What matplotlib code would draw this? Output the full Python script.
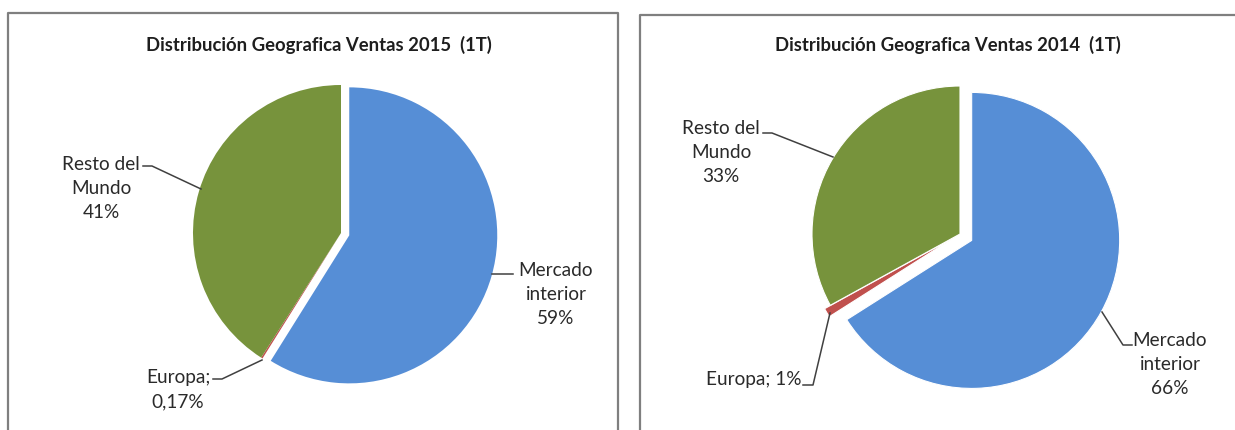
import matplotlib
matplotlib.use("Agg")
import matplotlib.pyplot as plt
from matplotlib.lines import Line2D

# ---------------- data ----------------
categories = ["Mercado interior", "Europa", "Resto del Mundo"]
values_2015 = [59, 0.17, 41]
values_2014 = [66, 1, 33]
pct_2015 = ["59%", "0,17%", "41%"]
pct_2014 = ["66%", "1%", "33%"]
title_2015 = "Distribución Geografica Ventas 2015  (1T)"
title_2014 = "Distribución Geografica Ventas 2014  (1T)"

colors = ["#568ED6", "#C0504D", "#77933C"]
TEXT = "#2A2A2A"
W, H = 1235, 430
plt.rcParams["font.family"] = ["Lato", "DejaVu Sans"]

fig = plt.figure(figsize=(W / 100, H / 100), dpi=100)
fig.patch.set_facecolor("white")


def fline(pts, **kw):
    xs = [p[0] / W for p in pts]
    ys = [1 - p[1] / H for p in pts]
    fig.add_artist(Line2D(xs, ys, transform=fig.transFigure, **kw))


def ftext(x, y, s, **kw):
    fig.text(x / W, 1 - y / H, s, **kw)


R = 148  # pie radius in px


def draw_pie(cx, cy, values, explode, edge_lw):
    half = 1.25 * R
    ax = fig.add_axes([(cx - half) / W, (H - cy - half) / H, 2 * half / W, 2 * half / H])
    wedges, _ = ax.pie(values, colors=colors, startangle=90, counterclock=False,
                       explode=explode, radius=1,
                       wedgeprops=dict(edgecolor="white" if edge_lw else "none",
                                       linewidth=edge_lw))
    for w in wedges:
        w.set_clip_on(False)
    ax.set_xlim(-1.25, 1.25)
    ax.set_ylim(-1.25, 1.25)
    ax.set_aspect("auto")
    ax.axis("off")
    return ax


# ---------------- panel borders ----------------
bc = "#7F7F7F"
fline([(8, 440), (8, 13), (618, 13), (618, 440)], color=bc, lw=1.6)
fline([(640, 440), (640, 15), (1245, 15)], color=bc, lw=1.6)

title_kw = dict(ha="center", va="center", fontsize=13.3, fontweight="bold", color="#1E1E1E")
lab_kw = dict(ha="center", va="center", fontsize=13.7, color=TEXT, linespacing=1.5,
              multialignment="center")
lc = "#404040"

# ---------------- left pie (2015) ----------------
draw_pie(341, 233, values_2015, [0.058, 0, 0], 0)
ftext(319, 45, title_2015, **title_kw)

ftext(556, 294, "Mercado\ninterior\n" + pct_2015[0], **lab_kw)
ftext(178, 390, "Europa;\n" + pct_2015[1], **lab_kw)
ftext(101, 188, "Resto del\nMundo\n" + pct_2015[2], **lab_kw)

fline([(492, 274), (513, 274)], color=lc, lw=1.1)
fline([(213, 379), (222, 379), (262, 360)], color=lc, lw=1.1)
fline([(143, 166), (152, 166), (201, 189)], color=lc, lw=1.1)

# ---------------- right pie (2014) ----------------
draw_pie(960, 234, values_2014, [0.09, 0.045, 0], 0.8)
ftext(948, 45, title_2014, **title_kw)

ftext(1170, 364, "Mercado\ninterior\n" + pct_2014[0], **lab_kw)
ftext(754, 379, "Europa; " + pct_2014[1], **lab_kw)
ftext(721, 152, "Resto del\nMundo\n" + pct_2014[2], **lab_kw)

fline([(1102, 312), (1123, 345), (1132, 345)], color=lc, lw=1.1)
fline([(803, 385), (813, 385), (830, 313)], color=lc, lw=1.1)
fline([(763, 133), (772, 133), (833, 157)], color=lc, lw=1.1)

fig.savefig("out.png", dpi=100, facecolor="white")
